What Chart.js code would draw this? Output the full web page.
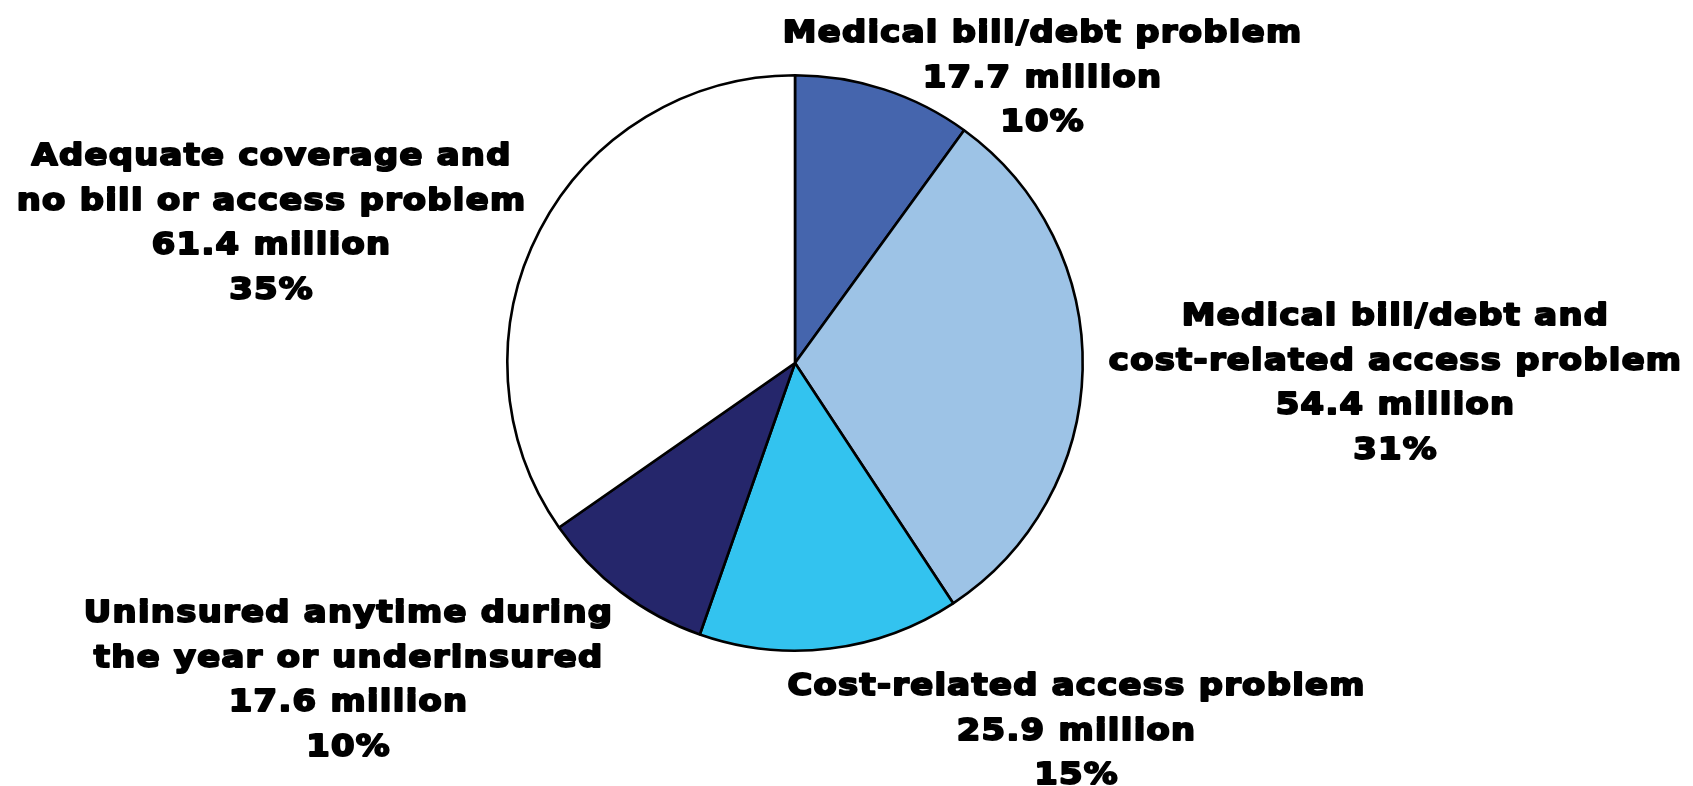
<!DOCTYPE html>
<html>
<head>
<meta charset="utf-8">
<title>Coverage and medical bill / access problems</title>
<script src="https://cdn.jsdelivr.net/npm/chart.js@4/dist/chart.umd.min.js"></script>
<style>
  html, body { margin: 0; padding: 0; background: #fff; }
  #wrap { width: 1693px; height: 786px; }
</style>
</head>
<body>
<div id="wrap"><canvas id="pieChart" width="1693" height="786"></canvas></div>
<script>
// slice names, split into the lines they are printed on
const categories = [
  ["Medical bill/debt problem"],
  ["Medical bill/debt and", "cost-related access problem"],
  ["Cost-related access problem"],
  ["Uninsured anytime during", "the year or underinsured"],
  ["Adequate coverage and", "no bill or access problem"]
];
// adults, in millions
const millions = [17.7, 54.4, 25.9, 17.6, 61.4];
const sliceColors = ["#4565ad", "#9dc3e6", "#33c3ef", "#25266b", "#ffffff"];

// where each label block sits (centre x, first line y)
const labelAnchors = [
  [1042, 31],
  [1395, 314],
  [1076, 684],
  [348, 611],
  [271, 154]
];
const lineGap = 44.5;

const total = millions.reduce((a, b) => a + b, 0);

// draws the multi-line labels next to the pie, in a heavy, wide face
const sliceLabels = {
  id: "sliceLabels",
  afterDraw(chart) {
    const ctx = chart.ctx;
    ctx.save();
    ctx.fillStyle = "#000";
    ctx.strokeStyle = "#000";
    ctx.lineWidth = 2;
    ctx.lineJoin = "round";
    ctx.font = 'bold 31px "DejaVu Sans"';
    ctx.textAlign = "center";
    ctx.textBaseline = "alphabetic";
    if ("letterSpacing" in ctx) ctx.letterSpacing = "1.2px";
    categories.forEach((lines, i) => {
      const pct = Math.round(millions[i] / total * 100) + "%";
      const all = [...lines, millions[i].toFixed(1) + " million", pct];
      const [x, y0] = labelAnchors[i];
      all.forEach((txt, j) => {
        ctx.save();
        ctx.translate(x + 0.6, y0 + j * lineGap + 11);
        ctx.scale(1.09, 1);
        ctx.fillText(txt, 0, 0);
        ctx.strokeText(txt, 0, 0);
        ctx.restore();
      });
    });
    ctx.restore();
  }
};

new Chart(document.getElementById("pieChart"), {
  type: "pie",
  data: {
    labels: categories.map(l => l.join(" ")),
    datasets: [{
      data: millions,
      backgroundColor: sliceColors,
      borderColor: "#000",
      borderWidth: 2.6
    }]
  },
  options: {
    responsive: false,
    animation: false,
    layout: { padding: { left: 506, right: 609, top: 74, bottom: 134 } },
    plugins: {
      legend: { display: false },
      tooltip: { enabled: false }
    }
  },
  plugins: [sliceLabels]
});
</script>
</body>
</html>
